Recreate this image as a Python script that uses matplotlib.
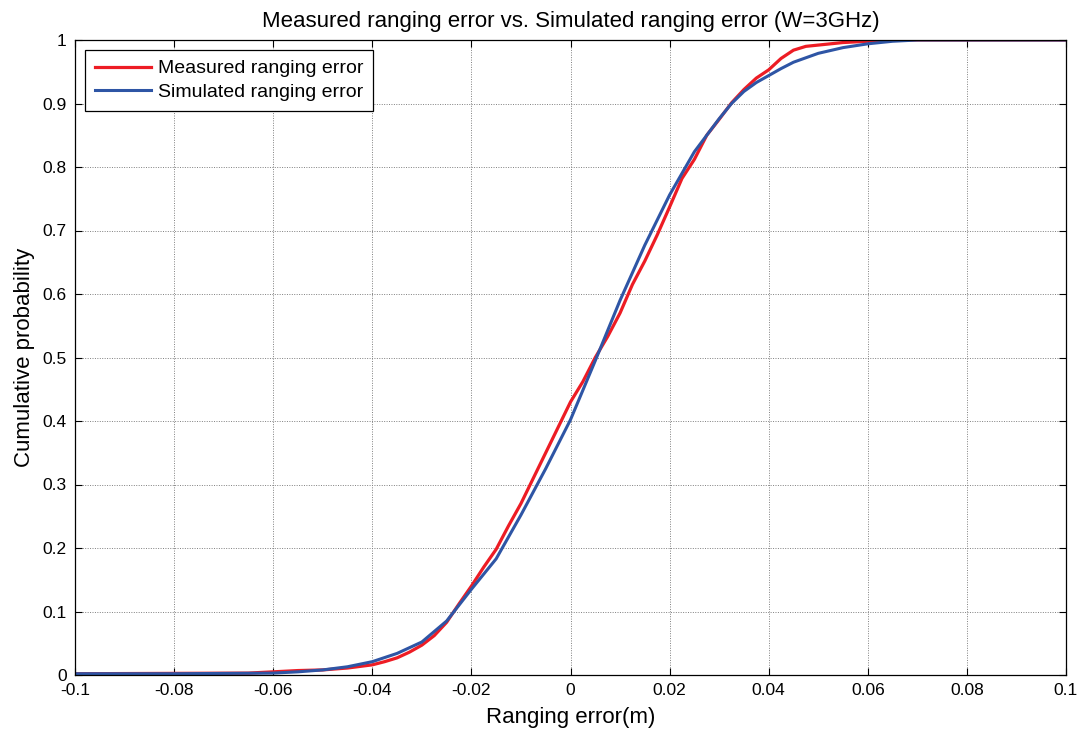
import matplotlib
matplotlib.use("Agg")
import matplotlib.pyplot as plt

plt.rcParams['font.family'] = ['Liberation Sans', 'DejaVu Sans']

title = "Measured ranging error vs. Simulated ranging error (W=3GHz)"
xlabel = "Ranging error(m)"
ylabel = "Cumulative probability"
legend_labels = ["Measured ranging error", "Simulated ranging error"]

meas_x = [-0.1, -0.065, -0.06, -0.055, -0.05, -0.045, -0.04, -0.0375, -0.035, -0.0325,
          -0.03, -0.0275, -0.025, -0.0225, -0.02, -0.0175, -0.015, -0.0125, -0.01, -0.0075,
          -0.005, -0.0025, 0.0, 0.0025, 0.005, 0.0075, 0.01, 0.0125, 0.015, 0.0175,
          0.02, 0.0225, 0.025, 0.0275, 0.03, 0.0325, 0.035, 0.0375, 0.04, 0.0425,
          0.045, 0.0475, 0.05, 0.055, 0.06, 0.065, 0.1]
meas_y = [0.002, 0.003, 0.005, 0.007, 0.008, 0.011, 0.016, 0.021, 0.027, 0.036,
          0.047, 0.062, 0.083, 0.112, 0.140, 0.170, 0.198, 0.235, 0.270, 0.310,
          0.350, 0.390, 0.430, 0.462, 0.500, 0.533, 0.570, 0.615, 0.652, 0.693,
          0.737, 0.782, 0.812, 0.850, 0.875, 0.901, 0.922, 0.940, 0.953, 0.971,
          0.984, 0.990, 0.992, 0.996, 0.998, 1.0, 1.0]

# Simulated CDF
sim_x = [-0.1, -0.08, -0.06, -0.055, -0.05, -0.045, -0.04, -0.035, -0.03, -0.025,
         -0.02, -0.015, -0.01, -0.005, 0.0, 0.005, 0.01, 0.015, 0.02, 0.025,
         0.03, 0.0325, 0.035, 0.0375, 0.04, 0.0425, 0.045, 0.05, 0.055, 0.06, 0.065,
         0.07, 0.08, 0.1]
sim_y = [0.002, 0.002, 0.003, 0.005, 0.008, 0.013, 0.021, 0.034, 0.052, 0.085,
         0.135, 0.183, 0.252, 0.325, 0.402, 0.495, 0.590, 0.677, 0.756, 0.824,
         0.876, 0.900, 0.919, 0.933, 0.944, 0.955, 0.965, 0.979, 0.988, 0.994, 0.998,
         1.0, 1.0, 1.0]

xticks = [-0.1, -0.08, -0.06, -0.04, -0.02, 0, 0.02, 0.04, 0.06, 0.08, 0.1]
xticklabels = ["-0.1", "-0.08", "-0.06", "-0.04", "-0.02", "0", "0.02", "0.04", "0.06", "0.08", "0.1"]
yticks = [0, 0.1, 0.2, 0.3, 0.4, 0.5, 0.6, 0.7, 0.8, 0.9, 1]
yticklabels = ["0", "0.1", "0.2", "0.3", "0.4", "0.5", "0.6", "0.7", "0.8", "0.9", "1"]

fig = plt.figure(figsize=(10.85, 7.38), dpi=100)
ax = fig.add_axes([75/1085, 1 - 675/738, (1066-75)/1085, (675-40)/738])

ax.plot(meas_x, meas_y, color='#ED1C24', lw=2.3, label=legend_labels[0])
ax.plot(sim_x, sim_y, color='#2E55A5', lw=2.2, label=legend_labels[1])

ax.set_xlim(-0.1, 0.1)
ax.set_ylim(0, 1)
ax.set_xticks(xticks)
ax.set_xticklabels(xticklabels)
ax.set_yticks(yticks)
ax.set_yticklabels(yticklabels)
ax.tick_params(direction='in', length=5, width=0.8, top=True, right=True, labelsize=12.5, pad=6)
ax.grid(True, color='#7f7f7f', linestyle=(0, (1, 1.5)), linewidth=0.7)
for s in ax.spines.values():
    s.set_linewidth(0.9)
    s.set_color('black')

ax.set_title(title, fontsize=16, pad=9)
ax.set_xlabel(xlabel, fontsize=16, labelpad=6)
ax.set_ylabel(ylabel, fontsize=16, labelpad=5)

leg = ax.legend(loc='upper left', bbox_to_anchor=(10/991, 1 - 10/635), fontsize=14,
                frameon=True, fancybox=False, edgecolor='black', framealpha=1,
                borderpad=0.5, handlelength=2.9, handletextpad=0.35,
                labelspacing=0.3, borderaxespad=0)
leg.get_frame().set_linewidth(0.9)

fig.savefig("out.png", dpi=100)
